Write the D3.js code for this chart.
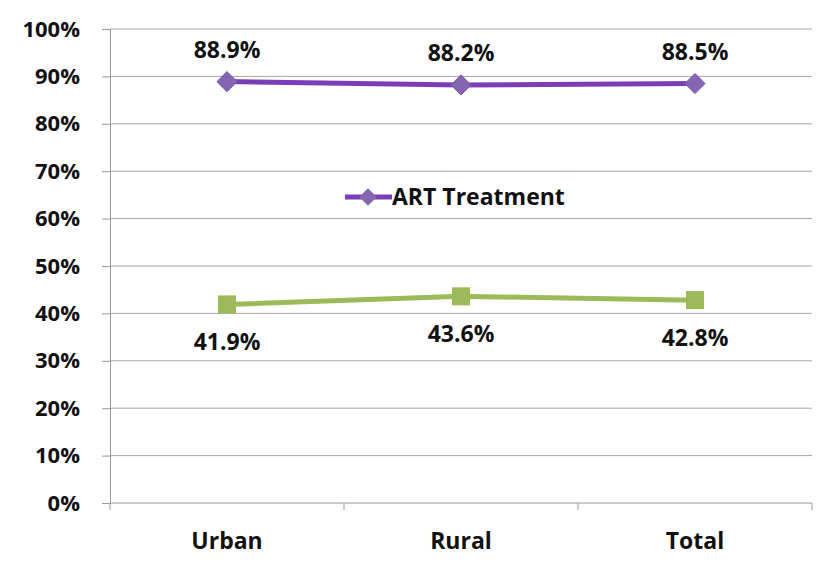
<!DOCTYPE html>
<html><head><meta charset="utf-8">
<script src="https://cdn.jsdelivr.net/npm/d3@7"></script>
<style>body{margin:0;background:#fff}svg{display:block}text{font-family:"Open Sans",sans-serif;font-weight:bold;fill:#111}</style>
</head><body><svg id="c" width="817" height="567"></svg>
<script>
const categories = ["Urban","Rural","Total"];
const artValues = [88.9, 88.2, 88.5];
const otherValues = [41.9, 43.6, 42.8];
const yTicks = [0,10,20,30,40,50,60,70,80,90,100];
const legendLabel = "ART Treatment";

const svg = d3.select("#c");
const L = 110, R = 812, T = 29, B = 503;
const x = d3.scaleBand().domain(categories).range([L,R]);
const y = d3.scaleLinear().domain([0,100]).range([B,T]);
const cx = c => x(c) + x.bandwidth()/2;

// gridlines
svg.append("g").selectAll("line").data(yTicks.filter(d=>d>0)).join("line")
  .attr("x1",L).attr("x2",R).attr("y1",d=>y(d)).attr("y2",d=>y(d))
  .attr("stroke","#a6a6a6").attr("stroke-width",1);

// y axis
const ya = svg.append("g").attr("transform",`translate(${L},0)`)
  .call(d3.axisLeft(y).tickValues(yTicks).tickFormat(d=>d+"%").tickSize(8).tickPadding(22));
ya.select(".domain").attr("stroke","#999");
ya.selectAll(".tick line").attr("stroke","#999");
ya.selectAll("text").attr("font-size",22).attr("fill","#111").style("font-family","'Open Sans',sans-serif").style("font-weight","bold");

// x axis
const xa = svg.append("g").attr("transform",`translate(0,${B})`);
xa.append("line").attr("x1",L).attr("x2",R).attr("stroke","#999");
const bounds = [L, ...categories.map(c=>x(c)+x.bandwidth())];
xa.selectAll("line.tk").data(bounds).join("line").attr("class","tk")
  .attr("x1",d=>d).attr("x2",d=>d).attr("y1",0).attr("y2",7).attr("stroke","#999");
xa.selectAll("text").data(categories).join("text")
  .attr("x",d=>cx(d)).attr("y",46).attr("text-anchor","middle").attr("font-size",23).text(d=>d);

// purple series
const line = d3.line().x((d,i)=>cx(categories[i])).y(d=>y(d));
svg.append("path").datum(artValues).attr("d",line).attr("fill","none")
  .attr("stroke","#7a3db8").attr("stroke-width",5);
svg.selectAll("path.dia").data(artValues).join("path").attr("class","dia")
  .attr("d",d3.symbol().type(d3.symbolDiamond2).size(260))
  .attr("transform",(d,i)=>`translate(${cx(categories[i])},${y(d)})`)
  .attr("fill","#8565b0").attr("stroke","#7a5aa8");
svg.selectAll("text.al").data(artValues).join("text").attr("class","al")
  .attr("x",(d,i)=>cx(categories[i])).attr("y",d=>y(d)-24).attr("text-anchor","middle")
  .attr("font-size",23).text(d=>d.toFixed(1)+"%");

// green series
svg.append("path").datum(otherValues).attr("d",line).attr("fill","none")
  .attr("stroke","#9bbb59").attr("stroke-width",5);
svg.selectAll("rect.sq").data(otherValues).join("rect").attr("class","sq")
  .attr("x",(d,i)=>cx(categories[i])-9).attr("y",d=>y(d)-9).attr("width",18).attr("height",18)
  .attr("fill","#9bbb59");
svg.selectAll("text.gl").data(otherValues).join("text").attr("class","gl")
  .attr("x",(d,i)=>cx(categories[i])).attr("y",d=>y(d)+46).attr("text-anchor","middle")
  .attr("font-size",23).text(d=>d.toFixed(1)+"%");

// legend
const lg = svg.append("g").attr("transform","translate(345,197)");
lg.append("line").attr("x1",0).attr("x2",47).attr("stroke","#7a3db8").attr("stroke-width",5);
lg.append("path").attr("d",d3.symbol().type(d3.symbolDiamond2).size(200)).attr("transform","translate(23,0)")
  .attr("fill","#8565b0");
lg.append("text").attr("x",47).attr("y",8).attr("font-size",23).text(legendLabel);
</script></body></html>
